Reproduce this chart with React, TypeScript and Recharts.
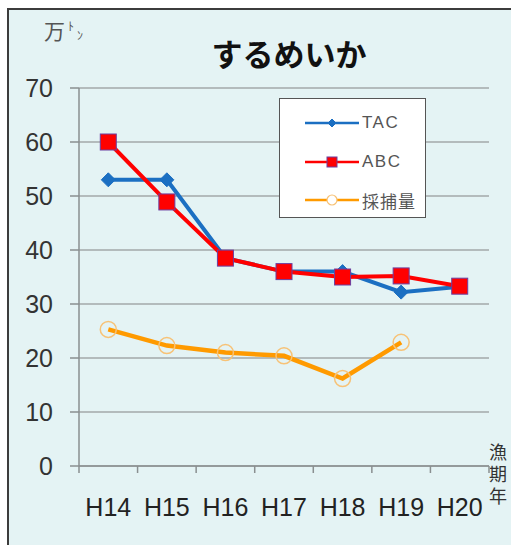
import React from "react";
import { LineChart, Line, XAxis, YAxis, CartesianGrid, Legend } from "recharts";

const years = ["H14", "H15", "H16", "H17", "H18", "H19", "H20"];
const tac = [53, 53, 38.5, 36, 36, 32.2, 33.2];
const abc = [60, 48.9, 38.5, 36, 35, 35.2, 33.3];
const catchAmt: (number | null)[] = [25.3, 22.3, 21, 20.4, 16.2, 22.9, null];
const yTicks = [0, 10, 20, 30, 40, 50, 60, 70];
const boundaryTicks = [0, 1, 2, 3, 4, 5, 6, 7];

const data = years.map((y, i) => ({
  year: y,
  tac: tac[i],
  abc: abc[i],
  catch: catchAmt[i],
}));

const BLUE = "#1b6fc2";
const RED = "#ff0000";
const ORANGE = "#ff9a00";

const latin = "'Liberation Sans', Arial, sans-serif";
const jp = "'Noto Sans CJK JP', sans-serif";

const Diamond = (props: any) => {
  const { cx, cy, big = true } = props;
  if (cx == null || cy == null) return null;
  const s = big ? 7 : 4;
  return (
    <path
      d={`M${cx},${cy - s} L${cx + s},${cy} L${cx},${cy + s} L${cx - s},${cy} Z`}
      fill={BLUE}
      stroke={BLUE}
    />
  );
};

const Square = (props: any) => {
  const { cx, cy, big = true } = props;
  if (cx == null || cy == null) return null;
  const s = big ? 8 : 5;
  return <rect x={cx - s} y={cy - s} width={s * 2} height={s * 2} fill={RED} stroke="#6b3fa0" strokeWidth={1} />;
};

const Ring = (props: any) => {
  const { cx, cy, payload } = props;
  if (cx == null || cy == null || (payload && payload.catch == null)) return null;
  return <circle cx={cx} cy={cy} r={8} fill="none" stroke="#f7c276" strokeWidth={1.5} />;
};

const legendItems = [
  { name: "TAC", color: BLUE, mark: "diamond" },
  { name: "ABC", color: RED, mark: "square" },
  { name: "採捕量", color: ORANGE, mark: "ring" },
];

const LegendBox = () => (
  <div
    style={{
      width: 147,
      height: 120,
      boxSizing: "border-box",
      background: "#fff",
      border: "1.5px solid #555",
      position: "relative",
    }}
  >
    {legendItems.map((it, i) => (
      <div
        key={it.name}
        style={{ position: "absolute", left: 0, top: 14 + i * 38.5, height: 20, display: "flex", alignItems: "center" }}
      >
        <svg width={82} height={20}>
          <line x1={25} x2={79} y1={10} y2={10} stroke={it.color} strokeWidth={2.5} />
          {it.mark === "diamond" && <Diamond cx={52} cy={10} big={false} />}
          {it.mark === "square" && <Square cx={52} cy={10} big={false} />}
          {it.mark === "ring" && <circle cx={52} cy={10} r={5} fill="#fff" stroke="#f7c276" strokeWidth={1.2} />}
        </svg>
        <span
          style={{
            fontFamily: it.mark === "ring" ? jp : latin,
            fontSize: 17,
            color: "#555",
            letterSpacing: it.mark === "ring" ? 1 : 1.5,
          }}
        >
          {it.name}
        </span>
      </div>
    ))}
  </div>
);

export default function App() {
  return (
    <div style={{ position: "absolute", left: 0, top: 0, width: 511, height: 545, overflow: "hidden", background: "#fff" }}>
      <div
        style={{
          position: "absolute",
          left: 7,
          top: 8,
          right: -10,
          bottom: -10,
          background: "#e4f3f4",
          borderLeft: "2px solid #3c3c3c",
          borderTop: "2px solid #3c3c3c",
        }}
      />
      <div style={{ position: "absolute", left: 44, top: 16, fontFamily: jp, color: "#555", fontSize: 21, lineHeight: "28px" }}>
        万
        <span style={{ fontSize: 12, position: "relative", top: -8, marginLeft: 3 }}>ﾄ</span>
        <span style={{ fontSize: 12, position: "relative", top: 1, marginLeft: 3 }}>ﾝ</span>
      </div>
      <div
        style={{
          position: "absolute",
          left: 0,
          width: 578,
          top: 33,
          textAlign: "center",
          fontFamily: jp,
          fontWeight: 700,
          fontSize: 31,
          lineHeight: "40px",
          color: "#111",
        }}
      >
        するめいか
      </div>
      <div
        style={{
          position: "absolute",
          left: 488,
          top: 443,
          width: 20,
          writingMode: "vertical-rl",
          fontFamily: jp,
          fontSize: 18,
          lineHeight: "20px",
          letterSpacing: 4,
          color: "#333",
        }}
      >
        漁期年
      </div>
      <div style={{ position: "absolute", left: 0, top: 0 }}>
        <LineChart width={511} height={545} data={data} margin={{ top: 88, right: 22, bottom: 0, left: 0 }}>
          <CartesianGrid xAxisId="b" vertical={false} stroke="#a3a9aa" strokeWidth={1.5} />
          <XAxis
            xAxisId="a"
            type="number"
            dataKey="idx"
            domain={[0, 7]}
            ticks={boundaryTicks}
            tickFormatter={() => ""}
            tickSize={7}
            height={8}
            stroke="#8a8f90"
            strokeWidth={1.5}
            allowDataOverflow
          />
          <XAxis
            xAxisId="b"
            dataKey="year"
            scale="band"
            axisLine={false}
            tickLine={false}
            tickSize={0}
            tickMargin={24}
            height={71}
            interval={0}
            tick={{ fill: "#222", fontSize: 25, fontFamily: latin }}
          />
          <YAxis
            domain={[0, 70]}
            ticks={yTicks}
            width={79}
            tickSize={9}
            tickMargin={17}
            stroke="#8a8f90"
            strokeWidth={1.5}
            interval={0}
            tick={{ fill: "#333", fontSize: 25, fontFamily: latin }}
          />
          <Legend
            layout="vertical"
            align="center"
            verticalAlign="middle"
            wrapperStyle={{ position: "absolute", left: 279, top: 98, width: 147, height: 120 }}
            content={() => <LegendBox />}
          />
          <Line xAxisId="b" dataKey="tac" name="TAC" stroke={BLUE} strokeWidth={4} dot={<Diamond />} isAnimationActive={false} />
          <Line xAxisId="b" dataKey="abc" name="ABC" stroke={RED} strokeWidth={4} dot={<Square />} isAnimationActive={false} />
          <Line
            xAxisId="b"
            dataKey="catch"
            name="採捕量"
            stroke={ORANGE}
            strokeWidth={4.5}
            dot={<Ring />}
            isAnimationActive={false}
          />
        </LineChart>
      </div>
    </div>
  );
}
